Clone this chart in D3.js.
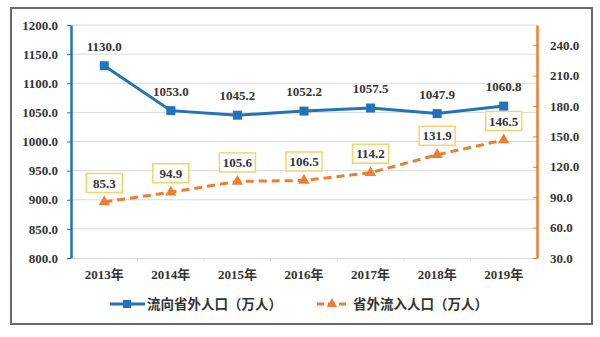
<!DOCTYPE html>
<html><head><meta charset="utf-8">
<script src="https://cdn.jsdelivr.net/npm/d3@7"></script>
<style>body{margin:0;background:#fff}svg{display:block}</style>
</head><body>
<svg id="c" width="600" height="337"></svg>
<script>
const categories = ["2013年","2014年","2015年","2016年","2017年","2018年","2019年"];
const outflow = [1130.0,1053.0,1045.2,1052.2,1057.5,1047.9,1060.8];
const inflow = [85.3,94.9,105.6,106.5,114.2,131.9,146.5];
const leftTicks = [800,850,900,950,1000,1050,1100,1150,1200];
const rightTicks = [30,60,90,120,150,180,210,240];
const seriesNames = ["流向省外人口（万人）","省外流入人口（万人）"];

const svg = d3.select("#c");
const L = 71, R = 537, T = 25, B = 258;
const blue = "#2272b9", orange = "#ed7d31";
const numFont = "'Liberation Serif','Times New Roman','Noto Sans CJK SC',serif";
const cjkFont = "'Noto Sans CJK SC',sans-serif";

svg.append("rect").attr("x",11).attr("y",8).attr("width",581).attr("height",316)
  .attr("fill","#fff").attr("stroke","#6a6a6a").attr("stroke-width",2);

const x = d3.scaleBand().domain(categories).range([L,R]);
const yL = d3.scaleLinear().domain([800,1200]).range([B,T]);
const yR = d3.scaleLinear().domain([30,260]).range([B,T]);
const cx = d => x(d) + x.bandwidth()/2;

// gridlines
svg.append("g").selectAll("line").data(leftTicks.slice(1)).join("line")
  .attr("x1",L).attr("x2",R).attr("y1",d=>yL(d)).attr("y2",d=>yL(d))
  .attr("stroke","#d9d9d9").attr("stroke-width",1);

// bottom axis
const gx = svg.append("g").attr("transform",`translate(0,${B})`)
  .call(d3.axisBottom(x).tickSize(0).tickPadding(12));
gx.select(".domain").attr("stroke","#d9d9d9");
gx.selectAll("text").attr("font-family",numFont).attr("font-weight","bold")
  .attr("font-size",13).attr("fill","#333");
svg.append("g").selectAll("line").data(categories.slice(1)).join("line")
  .attr("x1",d=>x(d)).attr("x2",d=>x(d)).attr("y1",B).attr("y2",B+4)
  .attr("stroke","#d9d9d9");

// left axis
const gl = svg.append("g").attr("transform",`translate(${L},0)`)
  .call(d3.axisLeft(yL).tickValues(leftTicks).tickFormat(d3.format(".1f")).tickSize(4).tickSizeOuter(0).tickPadding(9));
gl.select(".domain").attr("stroke",blue).attr("stroke-width",2.5);
gl.selectAll(".tick line").attr("stroke",blue);
gl.selectAll("text").attr("font-family",numFont).attr("font-weight","bold")
  .attr("font-size",13).attr("fill","#333");

// right axis
const gr = svg.append("g").attr("transform",`translate(${R},0)`)
  .call(d3.axisRight(yR).tickValues(rightTicks).tickFormat(d3.format(".1f")).tickSize(4).tickSizeOuter(0).tickPadding(9));
gr.select(".domain").attr("stroke",orange).attr("stroke-width",2.5);
gr.selectAll(".tick line").attr("stroke",orange).attr("x2",-4);
gr.selectAll("text").attr("font-family",numFont).attr("font-weight","bold")
  .attr("font-size",13).attr("fill","#333");

// inflow dashed line
const lineR = d3.line().x((d,i)=>cx(categories[i])).y(d=>yR(d));
svg.append("path").datum(inflow).attr("d",lineR).attr("fill","none")
  .attr("stroke",orange).attr("stroke-width",3).attr("stroke-dasharray","8,5");
const tri = d3.symbol().type(d3.symbolTriangle).size(55);
svg.append("g").selectAll("path").data(inflow).join("path")
  .attr("d",tri).attr("fill",orange)
  .attr("transform",(d,i)=>`translate(${cx(categories[i])},${yR(d)})`);
const lblR = svg.append("g").selectAll("g").data(inflow).join("g")
  .attr("transform",(d,i)=>`translate(${cx(categories[i])},${yR(d)-19})`);
lblR.append("rect").attr("x",-18).attr("y",-9.5).attr("width",36).attr("height",19)
  .attr("fill","#fff").attr("stroke","#f2d46b").attr("stroke-width",1.5);
lblR.append("text").text(d=>d3.format(".1f")(d)).attr("text-anchor","middle").attr("dy","0.36em")
  .attr("font-family",numFont).attr("font-weight","bold").attr("font-size",13).attr("fill","#333");

// outflow line
const lineL = d3.line().x((d,i)=>cx(categories[i])).y(d=>yL(d));
svg.append("path").datum(outflow).attr("d",lineL).attr("fill","none")
  .attr("stroke",blue).attr("stroke-width",3);
svg.append("g").selectAll("rect").data(outflow).join("rect")
  .attr("x",(d,i)=>cx(categories[i])-4.5).attr("y",d=>yL(d)-4.5)
  .attr("width",9).attr("height",9).attr("fill",blue);
svg.append("g").selectAll("text").data(outflow).join("text")
  .attr("x",(d,i)=>cx(categories[i])).attr("y",d=>yL(d)-15)
  .attr("text-anchor","middle").text(d=>d3.format(".1f")(d))
  .attr("font-family",numFont).attr("font-weight","bold").attr("font-size",13).attr("fill","#333");

// legend
const lg = svg.append("g").attr("transform","translate(0,304)");
lg.append("line").attr("x1",110).attr("x2",145).attr("stroke",blue).attr("stroke-width",3);
lg.append("rect").attr("x",123).attr("y",-4).attr("width",8).attr("height",8).attr("fill",blue);
lg.append("text").attr("x",147).attr("dy","0.35em").text(seriesNames[0])
  .attr("font-family",cjkFont).attr("font-weight","bold").attr("font-size",13.5).attr("fill","#333");
lg.append("line").attr("x1",317).attr("x2",348).attr("stroke",orange).attr("stroke-width",3).attr("stroke-dasharray","7,4");
lg.append("path").attr("d",d3.symbol().type(d3.symbolTriangle).size(45)).attr("fill",orange).attr("transform","translate(332,0)");
lg.append("text").attr("x",353).attr("dy","0.35em").text(seriesNames[1])
  .attr("font-family",cjkFont).attr("font-weight","bold").attr("font-size",13.5).attr("fill","#333");
</script>
</body></html>
